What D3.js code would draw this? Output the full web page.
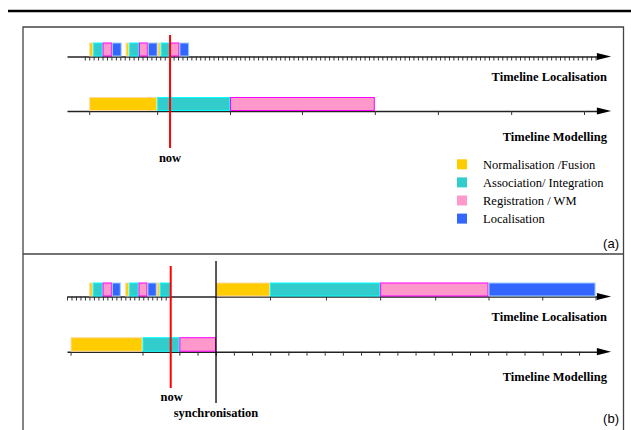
<!DOCTYPE html>
<html lang="en">
<head>
  <meta charset="UTF-8">
  <title>Timelines</title>
  <script src="https://d3js.org/d3.v7.min.js"></script>
  <style>
    html, body { margin: 0; padding: 0; background: white; overflow: hidden; }
    svg { display: block; }
  </style>
</head>
<body>
<svg width="631" height="430"></svg>
<script>
// phases, in drawing order inside a cycle
const phases = ["Normalisation /Fusion", "Association/ Integration", "Registration / WM", "Localisation"];
const phaseFill = ["#ffcc00", "#33cccc", "#ff99cc", "#3366ff"];
const phaseEdge = ["#ffd9a0", "#00ffff", "#ff00ff", "#99ccff"];

// time values (ms) of phase boundaries
const locCyclesA = [[5.0, 5.9, 8.0, 10.1, 12.3], [13.2, 14.0, 16.2, 18.2, 20.4], [20.4, 21.1, 23.2, 25.3, 27.5]];
const modCycleA = [5.0, 20.3, 36.7, 69.3];
const locCyclesB = [[5.0, 5.8, 8.0, 10.1, 12.1], [13.1, 14.0, 16.1, 18.1, 20.2], [20.2, 20.9, 23.3]];
const locSyncB = [33.55, 45.7, 70.5, 94.9, 119.0];
const modCycleB = [0.8, 17.0, 25.3, 33.55];

const nowA = 23.2, nowB = 23.35, syncB = 33.55;

// tick values
const locTicksA = d3.range(4, 119.5, 1);
const modTicksA = [5.0, 20.3, 36.7, 52.9, 69.3, 83.5, 100.0, 116.4];
const locTicksB = d3.range(0, 23.5, 1.01).concat([45.7, 58.3, 70.5, 82.9, 94.9, 107.0, 119.0]);
const modTicksB = [0.8, 17.0].concat(d3.range(25.3, 115.4, 4.09));

const serif = "'Liberation Serif', 'Times New Roman', serif";
const sans = "'Liberation Sans', Arial, sans-serif";

const svg = d3.select("svg");
const x = d3.scaleLinear().domain([0, 120]).range([67, 600]);

// frame
svg.append("line").attr("x1", 8).attr("x2", 631).attr("y1", 11).attr("y2", 11)
  .attr("stroke", "#000").attr("stroke-width", 2.6);
svg.append("path")
  .attr("d", "M23,440 L23,27 L623.5,27 L623.5,440 M23,254 L623.5,254")
  .attr("fill", "none").attr("stroke", "#444").attr("stroke-width", 1.3);

function timeline(y, ticks) {
  const g = svg.append("g").attr("transform", `translate(0,${y})`);
  g.call(d3.axisBottom(x).tickValues(ticks).tickSize(4).tickSizeOuter(0).tickFormat(""));
  g.select(".domain").attr("stroke", "#222").attr("stroke-width", 1.4);
  g.selectAll(".tick line").attr("stroke", "#333").attr("stroke-width", 1);
  g.append("path")
    .attr("d", `M${x(119.3)},-3.6 L${x(122.5)},0 L${x(119.3)},3.6 Z`)
    .attr("fill", "#000");
  return g;
}

function bars(y, bounds, h) {
  const segs = [];
  bounds.forEach((b, c) => {
    for (let i = 0; i < b.length - 1; i++) segs.push({ a: b[i], b: b[i + 1], p: i });
  });
  svg.append("g").selectAll("rect").data(segs).join("rect")
    .attr("x", d => x(d.a) + 0.5)
    .attr("y", y - h + 0.5)
    .attr("width", d => x(d.b) - x(d.a) - 1)
    .attr("height", h - 1)
    .attr("fill", d => phaseFill[d.p])
    .attr("stroke", d => phaseEdge[d.p])
    .attr("stroke-width", 1);
}

function label(txt, xx, y, anchor, size, weight, family) {
  svg.append("text").text(txt).attr("x", xx).attr("y", y)
    .attr("text-anchor", anchor).attr("font-size", size)
    .attr("font-weight", weight).attr("font-family", family);
}

// ---- panel (a)
timeline(56.5, locTicksA);
bars(56.5, locCyclesA, 14);
timeline(111, modTicksA);
bars(111, [modCycleA], 14);
label("Timeline Localisation", 607, 81, "end", 12.5, "bold", serif);
label("Timeline Modelling", 607, 141, "end", 12.5, "bold", serif);

svg.append("line").attr("x1", x(nowA)).attr("x2", x(nowA)).attr("y1", 35).attr("y2", 148)
  .attr("stroke", "#ff0000").attr("stroke-width", 2);
label("now", x(nowA), 161.5, "middle", 12.5, "bold", serif);

const legend = svg.append("g").selectAll("g").data(phases).join("g")
  .attr("transform", (d, i) => `translate(457,${164.3 + i * 18.1})`);
legend.append("rect").attr("x", 0).attr("y", -5).attr("width", 10).attr("height", 10)
  .attr("fill", (d, i) => phaseFill[i]);
legend.append("text").text(d => d).attr("x", 26).attr("y", 4.3)
  .attr("font-size", 12.5).attr("font-family", serif);

label("(a)", 619, 247.5, "end", 13, "normal", sans);

// ---- panel (b)
timeline(296.5, locTicksB);
bars(296.5, locCyclesB, 14);
bars(296.5, [locSyncB], 14);
timeline(351.7, modTicksB);
bars(351.7, [modCycleB], 14.5);
label("Timeline Localisation", 607, 320.5, "end", 12.5, "bold", serif);
label("Timeline Modelling", 607, 380.5, "end", 12.5, "bold", serif);

svg.append("line").attr("x1", x(nowB)).attr("x2", x(nowB)).attr("y1", 266).attr("y2", 388)
  .attr("stroke", "#ff0000").attr("stroke-width", 2);
svg.append("line").attr("x1", x(syncB)).attr("x2", x(syncB)).attr("y1", 261).attr("y2", 403)
  .attr("stroke", "#000").attr("stroke-width", 1.3);
label("now", x(nowB) + 1, 400.5, "middle", 12.5, "bold", serif);
label("synchronisation", x(syncB), 416.5, "middle", 12.5, "bold", serif);

label("(b)", 619, 423, "end", 13, "normal", sans);
</script>
</body>
</html>
